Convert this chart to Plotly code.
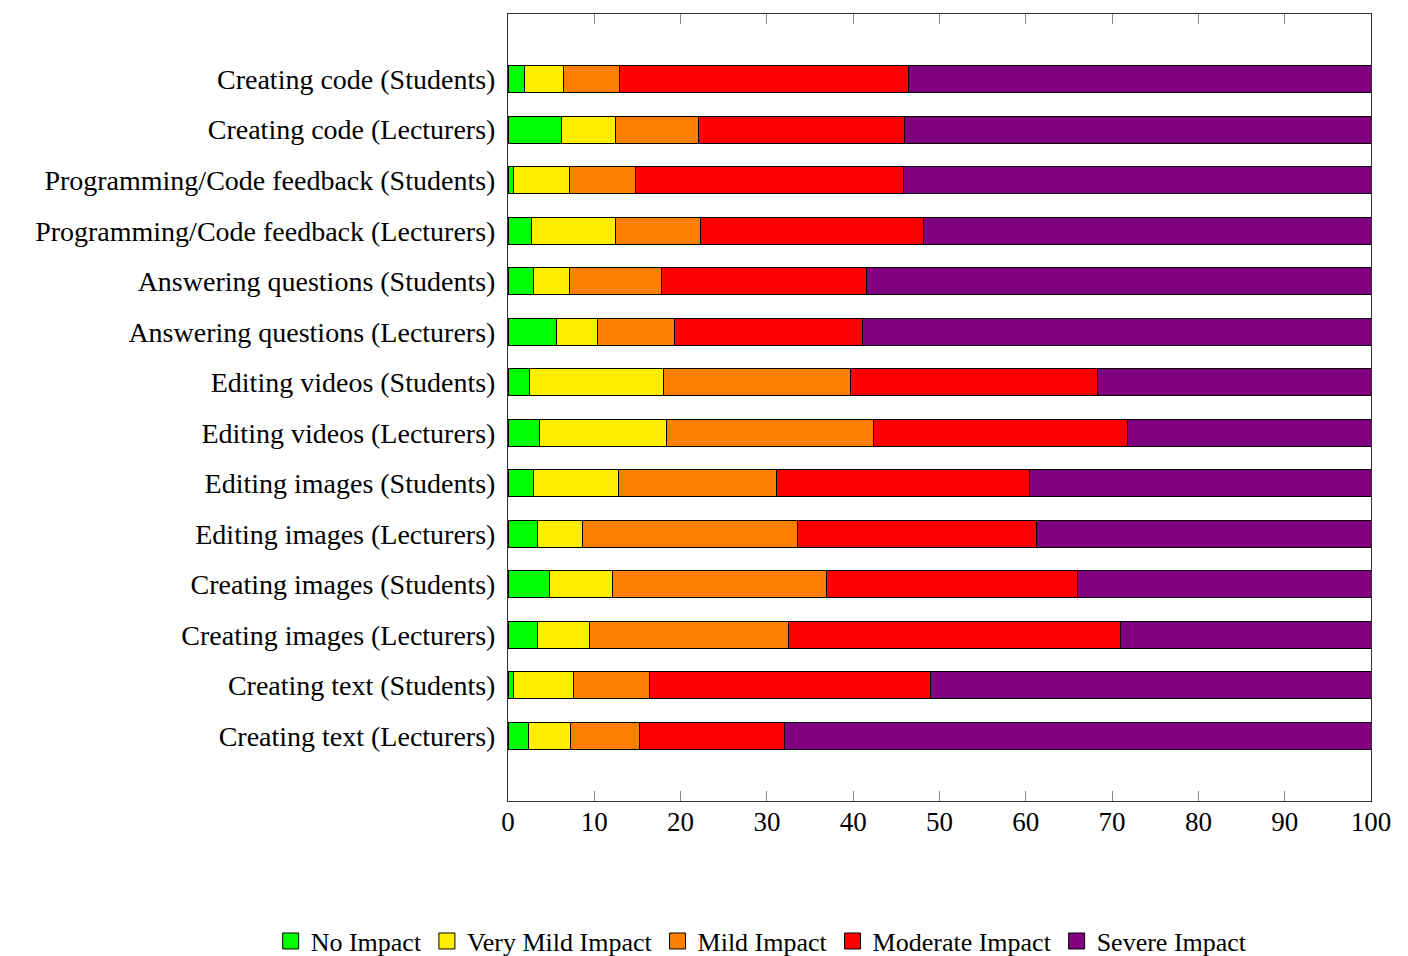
import plotly.graph_objects as go

categories = [
    "Creating code (Students)",
    "Creating code (Lecturers)",
    "Programming/Code feedback (Students)",
    "Programming/Code feedback (Lecturers)",
    "Answering questions (Students)",
    "Answering questions (Lecturers)",
    "Editing videos (Students)",
    "Editing videos (Lecturers)",
    "Editing images (Students)",
    "Editing images (Lecturers)",
    "Creating images (Students)",
    "Creating images (Lecturers)",
    "Creating text (Students)",
    "Creating text (Lecturers)",
]

no_impact = [1.9, 6.2, 0.6, 2.7, 3.0, 5.6, 2.5, 3.7, 3.0, 3.4, 4.8, 3.4, 0.6, 2.4]
very_mild = [4.5, 6.2, 6.5, 9.8, 4.1, 4.8, 15.5, 14.7, 9.8, 5.2, 7.3, 6.0, 7.0, 4.8]
mild = [6.5, 9.7, 7.7, 9.8, 10.7, 8.9, 21.7, 23.9, 18.3, 25.0, 24.8, 23.1, 8.8, 8.0]
moderate = [33.5, 23.9, 31.0, 25.9, 23.7, 21.8, 28.6, 29.5, 29.3, 27.6, 29.1, 38.5, 32.6, 16.8]
severe = [53.6, 54.0, 54.2, 51.8, 58.5, 58.9, 31.7, 28.2, 39.6, 38.8, 34.0, 29.0, 51.0, 68.0]

series = [
    ("No Impact", no_impact, "#00FF00"),
    ("Very Mild Impact", very_mild, "#FFEE00"),
    ("Mild Impact", mild, "#FF8000"),
    ("Moderate Impact", moderate, "#FF0000"),
    ("Severe Impact", severe, "#800080"),
]

FONT = "Liberation Serif"

fig = go.Figure()
for name, vals, color in series:
    fig.add_trace(go.Bar(
        y=categories, x=vals, name=name, orientation="h", showlegend=False,
        marker=dict(color=color, line=dict(color="black", width=1)),
    ))
# legend entries with larger square swatches
for name, vals, color in series:
    fig.add_trace(go.Scatter(
        x=[None], y=[None], mode="markers", name=name, showlegend=True,
        marker=dict(symbol="square", size=16, color=color,
                    line=dict(color="black", width=1)),
        hoverinfo="skip",
    ))

fig.update_layout(
    barmode="stack",
    bargap=0.465,
    width=1400, height=948,
    margin=dict(l=500, r=37, t=6, b=155, autoexpand=False),
    paper_bgcolor="white", plot_bgcolor="white",
    font=dict(family=FONT, size=28, color="black"),
    showlegend=True,
    legend=dict(
        orientation="h", xref="paper", yref="paper",
        x=-0.275, xanchor="left", y=-0.178, yanchor="middle",
        font=dict(family=FONT, size=26, color="black"),
        itemwidth=30, tracegroupgap=0, traceorder="normal",
        itemsizing="trace",
    ),
)
fig.update_xaxes(
    range=[0, 100], dtick=10, showgrid=False, zeroline=False,
    showline=True, linecolor="#333333", linewidth=1, mirror="ticks",
    ticks="inside", ticklen=10, tickcolor="#888888",
    tickfont=dict(family=FONT, size=27), ticklabelstandoff=-3,
)
fig.update_yaxes(
    type="category", range=[13 + 1.29, -1.29],
    showgrid=False, zeroline=False,
    showline=True, linecolor="#333333", linewidth=1, mirror=True,
    ticks="", ticklabelstandoff=6,
    tickfont=dict(family=FONT, size=28),
)

fig.write_html("out.html")
